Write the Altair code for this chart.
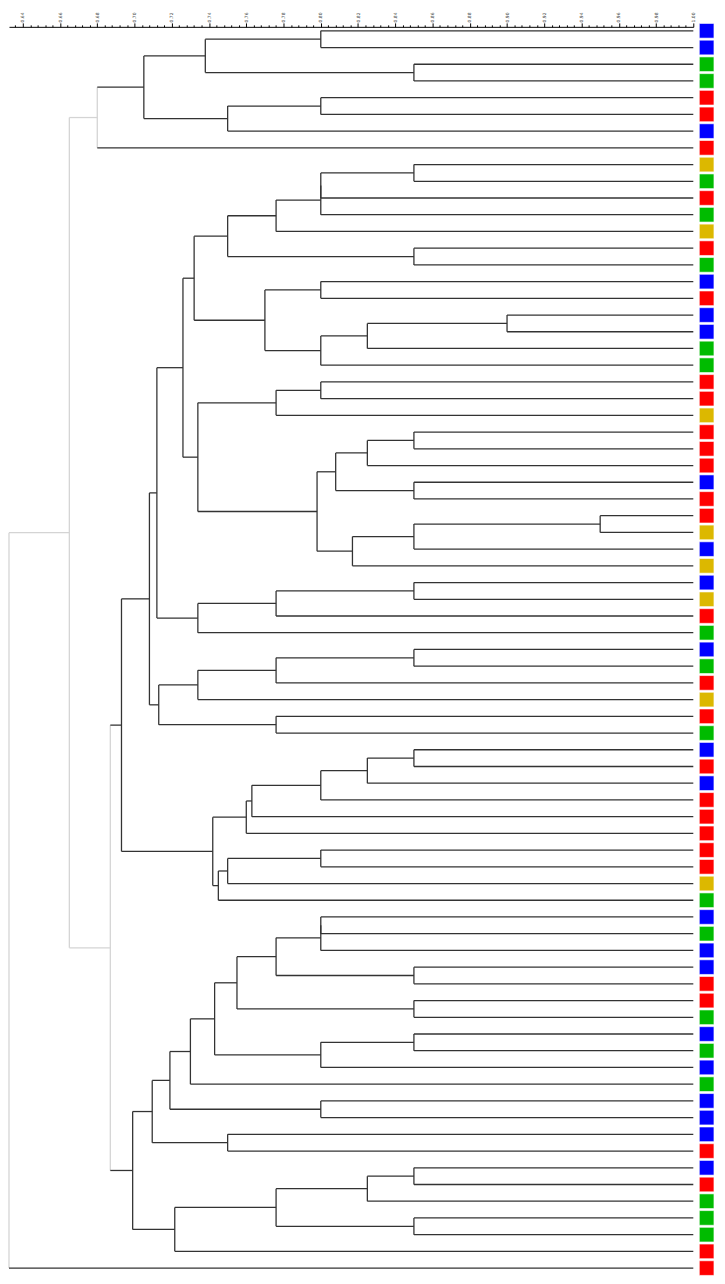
import altair as alt
import pandas as pd

# ---- data -------------------------------------------------------------
# group of each leaf, top to bottom (B=blue, G=green, R=red, Y=yellow)
leaf_groups = list("BBGGRRBRYGRGYRGBRBB"
                   "GGRRYRRRBRRYBYBYRGB"
                   "GRYRGBRBRRRRRYGBGBB"
                   "RRGBGBGBBBRBRGGGRR")

# agglomeration steps: node ids 0..74 are leaves, 75.. are merges in order
merge_left = [0, 2, 75, 4, 78, 77, 80,
              8, 82, 83, 84, 13, 85, 15, 17, 89, 90, 88, 87,
              21, 94, 24, 96, 27, 97, 29, 100, 101, 99, 95, 93,
              33, 106, 107, 105,
              37, 110, 111, 41, 112, 109,
              43, 116, 117, 118, 119, 49, 121, 122, 120, 115,
              53, 126, 56, 127, 58, 129, 60, 132, 131, 134, 64, 135, 66, 137,
              68, 140, 71, 141, 143, 139,
              125, 81, 147]
merge_right = [1, 3, 76, 5, 6, 79, 7,
               9, 10, 11, 12, 14, 86, 16, 18, 19, 20, 91, 92,
               22, 23, 25, 26, 28, 98, 30, 31, 32, 102, 103, 104,
               34, 35, 36, 108,
               38, 39, 40, 42, 113, 114,
               44, 45, 46, 47, 48, 50, 51, 52, 123, 124,
               54, 55, 57, 128, 59, 130, 61, 62, 133, 63, 65, 136, 67, 138,
               69, 70, 72, 142, 73, 144,
               145, 146, 74]
merge_height = [0.800, 0.850, 0.738, 0.800, 0.750, 0.705, 0.680,
                0.850, 0.800, 0.800, 0.776, 0.850, 0.750, 0.800, 0.900, 0.825, 0.800, 0.770, 0.732,
                0.800, 0.776, 0.850, 0.825, 0.850, 0.808, 0.950, 0.850, 0.817, 0.798, 0.734, 0.726,
                0.850, 0.776, 0.734, 0.712,
                0.850, 0.776, 0.734, 0.776, 0.713, 0.708,
                0.850, 0.825, 0.800, 0.763, 0.760, 0.800, 0.750, 0.745, 0.742, 0.693,
                0.800, 0.800, 0.850, 0.776, 0.850, 0.755, 0.850, 0.800, 0.743, 0.730, 0.800, 0.719, 0.750, 0.7095,
                0.850, 0.825, 0.850, 0.776, 0.7216, 0.699,
                0.687, 0.665, 0.6326]

axis_labels = [0.64, 0.66, 0.68, 0.70, 0.72, 0.74, 0.76, 0.78, 0.80, 0.82,
               0.84, 0.86, 0.88, 0.90, 0.92, 0.94, 0.96, 0.98, 1.00]

GREY_BELOW = 0.69
X_MIN, X_MAX = 0.6326, 1.0

# ---- dendrogram layout (scipy-like) -----------------------------------
n = len(leaf_groups)
ypos = [float(i) for i in range(n)]
xpos = [X_MAX] * n
for l, r, h in zip(merge_left, merge_right, merge_height):
    ypos.append((ypos[l] + ypos[r]) / 2.0)
    xpos.append(h)

def tone(node):
    return "grey" if (node >= n and xpos[node] < GREY_BELOW) else "dark"

segs = []
for k, (l, r, h) in enumerate(zip(merge_left, merge_right, merge_height)):
    node = n + k
    segs.append(dict(x=h, x2=h, y=ypos[l], y2=ypos[r], tone=tone(node)))
    for c in (l, r):
        segs.append(dict(x=h, x2=xpos[c], y=ypos[c], y2=ypos[c], tone=tone(c)))
seg_df = pd.DataFrame(segs)
seg_df["order"] = (seg_df["tone"] == "dark").astype(int)
seg_df = seg_df.sort_values("order")

leaf_df = pd.DataFrame({"idx": list(range(n)), "grp": leaf_groups})

# ---- geometry ---------------------------------------------------------
W, H = 693, 1263
PAD_TOP = 11
pitch = 16.93
top_page = 8 + PAD_TOP
d0 = -(23 - top_page) / pitch
d1 = (n - 1) + (H - (1276 - top_page)) / pitch

tick_vals = [round(axis_labels[0] - 0.004, 4)]
for a, b in zip(axis_labels[:-1], axis_labels[1:]):
    for j in range(5):
        tick_vals.append(round(a + (b - a) * j / 5, 4))
tick_vals.append(axis_labels[-1])

is_major = "abs(datum.value*50 - round(datum.value*50)) < 0.001"

xscale = alt.Scale(domain=[X_MIN, X_MAX], nice=False, zero=False)
yscale = alt.Scale(domain=[d0, d1], nice=False, zero=False, reverse=True)

lines = alt.Chart(seg_df).mark_rule(strokeWidth=1.3).encode(
    x=alt.X("x:Q", scale=xscale,
            axis=alt.Axis(orient="top", title=None, values=tick_vals,
                          labelExpr=is_major + " ? format(datum.value, '.2f') : ''",
                          labelAngle=270, labelAlign="left", labelBaseline="middle",
                          labelFontSize=4.5, labelFont="DejaVu Sans", labelColor="#444",
                          labelPadding=1, labelOverlap=False, labelFlush=False,
                          tickSize={"condition": {"test": is_major, "value": 4}, "value": 2},
                          tickColor="#000", tickWidth=1,
                          domainColor="#000", domainWidth=1, grid=False)),
    x2="x2:Q",
    y=alt.Y("y:Q", scale=yscale, axis=None),
    y2="y2:Q",
    color=alt.Color("tone:N", scale=alt.Scale(domain=["dark", "grey"],
                                               range=["#333333", "#d4d4d4"]),
                    legend=None),
    order="order:Q",
)

squares = alt.Chart(leaf_df).mark_square(size=220, opacity=1, stroke="#ffffff",
                                         strokeWidth=0.6).encode(
    x=alt.value(706.5),
    y=alt.Y("idx:Q", scale=yscale, axis=None),
    color=alt.Color("grp:N", scale=alt.Scale(domain=["B", "G", "R", "Y"],
                                              range=["#0000ff", "#00bb00", "#ff0000", "#dcb800"]),
                    legend=None),
)

chart = alt.layer(lines, squares).resolve_scale(color="independent").properties(
    width=W, height=H,
    autosize=alt.AutoSizeParams(type="none"),
    padding={"left": 1, "top": PAD_TOP, "right": 24, "bottom": 0},
).configure_view(strokeWidth=0)

chart.save("out.html", embed_options={"renderer": "svg", "actions": False})
